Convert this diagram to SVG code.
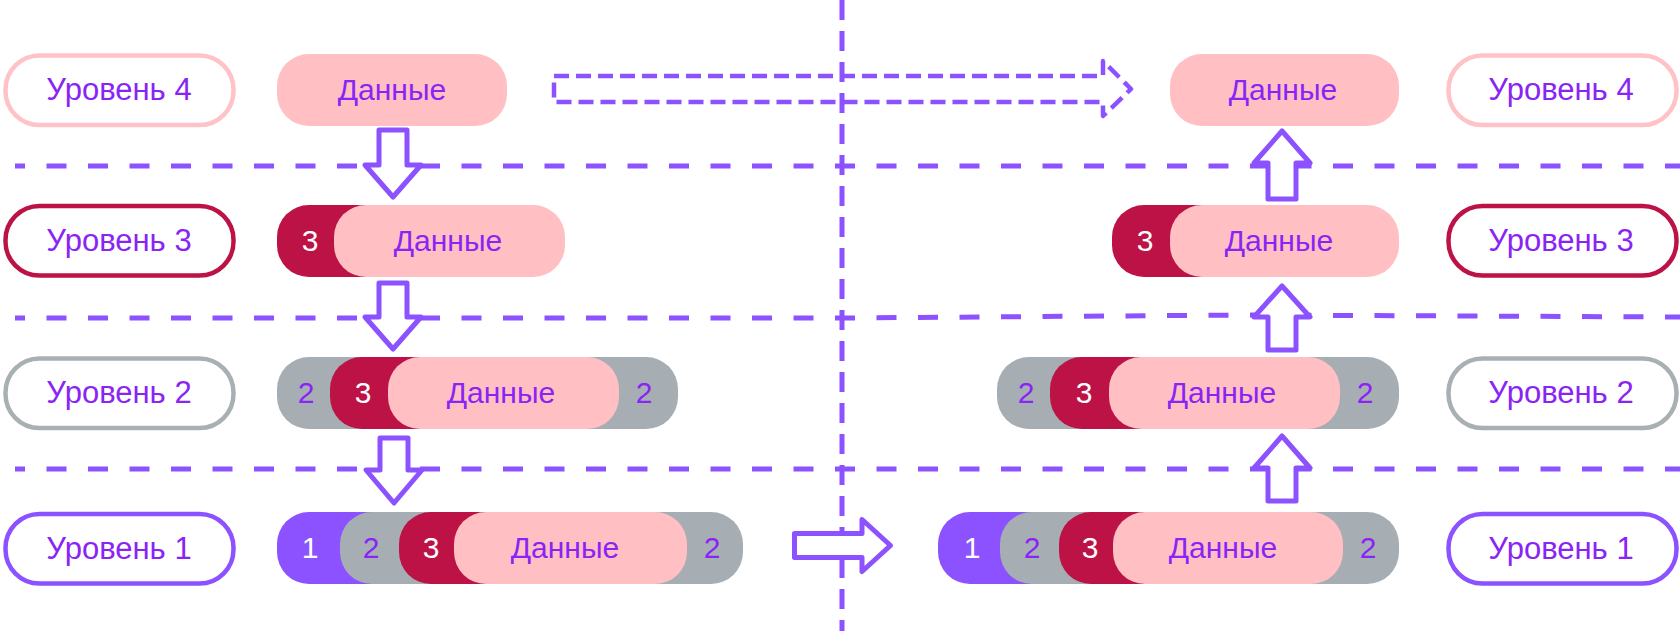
<svg xmlns="http://www.w3.org/2000/svg" width="1680" height="631" viewBox="0 0 1680 631">
<style>
.t{font-family:"Liberation Sans",Arial,sans-serif;font-size:30px;fill:#8A24F5;text-anchor:middle}
.l{font-size:31px}
.w{fill:#FFFFFF}
.lbl{fill:#FFFFFF;stroke-width:4.5}
.pk{fill:#FFBFC3}
.rd{fill:#BC1246}
.gr{fill:#A6AEB3}
.pu{fill:#8C52FF}
.dl{fill:none;stroke:#8C52FF;stroke-width:5;stroke-dasharray:20 21.5;stroke-dashoffset:10}
.vl{fill:none;stroke:#8C52FF;stroke-width:5;stroke-dasharray:20 11}
.ar{fill:#FFFFFF;stroke:#8C52FF;stroke-width:5;stroke-linejoin:round}
.da{fill:none;stroke:#8C52FF;stroke-width:4.5;stroke-linejoin:round;stroke-dasharray:15 7}
</style>
<rect width="1680" height="631" fill="#FFFFFF"/>
<g id="lines">
<path class="vl" d="M842 0 V631"/>
<path class="dl" d="M15 166 H1680"/>
<path class="dl" d="M15 318 L840 318 L1250 315 L1680 317"/>
<path class="dl" d="M15 469 H1680"/>
</g>
<g id="level4-left"><rect class="lbl" x="5.5" y="55.5" width="228" height="69.5" rx="34" stroke="#FFC2C6"/><text class="t l" x="119" y="100">Уровень 4</text></g>
<g id="level3-left"><rect class="lbl" x="5.5" y="206" width="228" height="69.5" rx="34" stroke="#BC1246"/><text class="t l" x="119" y="251">Уровень 3</text></g>
<g id="level2-left"><rect class="lbl" x="5.5" y="358.5" width="228" height="69.5" rx="34" stroke="#A9B0B4"/><text class="t l" x="119" y="403">Уровень 2</text></g>
<g id="level1-left"><rect class="lbl" x="5.5" y="514" width="228" height="69.5" rx="34" stroke="#8C52FF"/><text class="t l" x="119" y="559">Уровень 1</text></g>
<g id="level4-right"><rect class="lbl" x="1448.5" y="55.5" width="228" height="69.5" rx="34" stroke="#FFC2C6"/><text class="t l" x="1561" y="100">Уровень 4</text></g>
<g id="level3-right"><rect class="lbl" x="1448.5" y="206" width="228" height="69.5" rx="34" stroke="#BC1246"/><text class="t l" x="1561" y="251">Уровень 3</text></g>
<g id="level2-right"><rect class="lbl" x="1448.5" y="358.5" width="228" height="69.5" rx="34" stroke="#A9B0B4"/><text class="t l" x="1561" y="403">Уровень 2</text></g>
<g id="level1-right"><rect class="lbl" x="1448.5" y="514" width="228" height="69.5" rx="34" stroke="#8C52FF"/><text class="t l" x="1561" y="559">Уровень 1</text></g>
<g id="packet4-left"><rect class="pk" x="277" y="54" width="230" height="72" rx="32"/><text class="t" x="392" y="100">Данные</text></g>
<g id="packet3-left"><rect class="rd" x="277" y="205" width="130" height="72" rx="32"/><rect class="pk" x="334" y="205" width="231" height="72" rx="32"/><text class="t w" x="310" y="251">3</text><text class="t" x="448" y="251">Данные</text></g>
<g id="packet2-left"><rect class="gr" x="277" y="357" width="401" height="72" rx="32"/><rect class="rd" x="330" y="357" width="130" height="72" rx="32"/><rect class="pk" x="388" y="357" width="231" height="72" rx="32"/><text class="t" x="306" y="403">2</text><text class="t w" x="363" y="403">3</text><text class="t" x="501" y="403">Данные</text><text class="t" x="644" y="403">2</text></g>
<g id="packet1-left"><rect class="pu" x="277" y="512" width="130" height="72" rx="32"/><rect class="gr" x="340" y="512" width="403" height="72" rx="32"/><rect class="rd" x="399" y="512" width="130" height="72" rx="32"/><rect class="pk" x="454" y="512" width="233" height="72" rx="32"/><text class="t w" x="310" y="558">1</text><text class="t" x="371" y="558">2</text><text class="t w" x="431" y="558">3</text><text class="t" x="565" y="558">Данные</text><text class="t" x="712" y="558">2</text></g>
<g id="packet4-right"><rect class="pk" x="1170" y="54" width="229" height="72" rx="32"/><text class="t" x="1283" y="100">Данные</text></g>
<g id="packet3-right"><rect class="rd" x="1112" y="205" width="130" height="72" rx="32"/><rect class="pk" x="1170" y="205" width="229" height="72" rx="32"/><text class="t w" x="1145" y="251">3</text><text class="t" x="1279" y="251">Данные</text></g>
<g id="packet2-right"><rect class="gr" x="997" y="357" width="402" height="72" rx="32"/><rect class="rd" x="1050" y="357" width="130" height="72" rx="32"/><rect class="pk" x="1109" y="357" width="231" height="72" rx="32"/><text class="t" x="1026" y="403">2</text><text class="t w" x="1084" y="403">3</text><text class="t" x="1222" y="403">Данные</text><text class="t" x="1365" y="403">2</text></g>
<g id="packet1-right"><rect class="pu" x="938" y="512" width="130" height="72" rx="32"/><rect class="gr" x="1000" y="512" width="399" height="72" rx="32"/><rect class="rd" x="1059" y="512" width="130" height="72" rx="32"/><rect class="pk" x="1113" y="512" width="230" height="72" rx="32"/><text class="t w" x="972" y="558">1</text><text class="t" x="1032" y="558">2</text><text class="t w" x="1090" y="558">3</text><text class="t" x="1223" y="558">Данные</text><text class="t" x="1368" y="558">2</text></g>
<g id="connectors">
<path class="ar" d="M379 130 V165 H365 L393 197 L421 165 H407 V130 Z"/>
<path class="ar" d="M379 283 V317 H365 L393 349 L421 317 H407 V283 Z"/>
<path class="ar" d="M380 438 V470 H366 L394 503 L422 470 H408 V438 Z"/>
<path class="ar" d="M1268 199 V163 H1254 L1282 131 L1310 163 H1296 V199 Z"/>
<path class="ar" d="M1268 350 V317 H1254 L1282 286 L1310 317 H1296 V350 Z"/>
<path class="ar" d="M1268 501 V468 H1254 L1282 436 L1310 468 H1296 V501 Z"/>
<path class="ar" d="M794.5 533.5 H862 V519.5 L890.5 545.5 L862 571.5 V557.5 H794.5 Z"/>
<path class="da" d="M554 76 H1103 V61 L1131 89 L1103 116 V102 H554 Z"/>
</g>
</svg>
